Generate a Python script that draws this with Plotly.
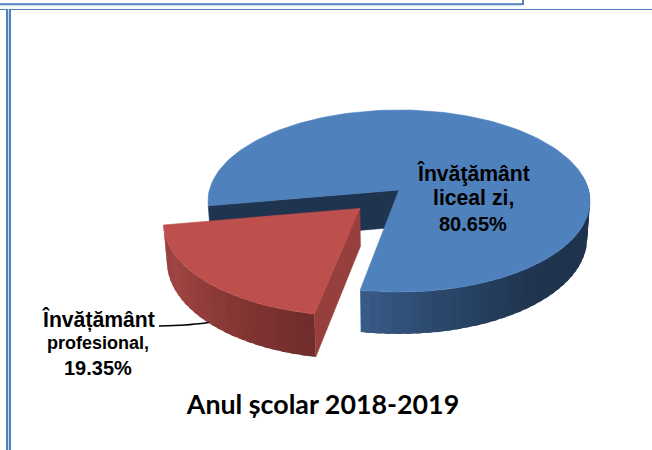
import math
import plotly.graph_objects as go

# ---- data ----
categories = ["Învățământ liceal zi", "Învățământ profesional"]
values = [80.65, 19.35]
chart_title = "Anul școlar 2018-2019"

# ---- drawing geometry ----
CX, CY = 399, 190
A, B, K = 189.6, 89.7, 0.1209
DEPTH = 36.9
EXPLODE = 0.284
START = 10.4


def project(sx, sy, z=0.0):
    den = 1 - K * sy
    x = CX + A * sx / den
    y = CY + B * sy / den
    x = CX + (x - CX) * (1 - 0.015 * z)
    return x, y + DEPTH * z / den


def point(phi, r=1.0, off=(0, 0), z=0.0):
    t = math.radians(phi)
    return project(-math.sin(t) * r + off[0], math.cos(t) * r + off[1], z)


def lerp_color(stops, p):
    for (p0, c0), (p1, c1) in zip(stops, stops[1:]):
        if p <= p1:
            f = (p - p0) / (p1 - p0) if p1 > p0 else 0
            return "rgb(%d,%d,%d)" % tuple(round(c0[i] + (c1[i] - c0[i]) * f) for i in range(3))
    return "rgb(%d,%d,%d)" % stops[-1][1]


fig = go.Figure()


def poly(pts, color, width=0.6):
    xs = [p[0] for p in pts] + [pts[0][0]]
    ys = [p[1] for p in pts] + [pts[0][1]]
    fig.add_trace(go.Scatter(x=xs, y=ys, mode="lines", fill="toself", fillcolor=color,
                             line=dict(color=color, width=width), hoverinfo="skip", showlegend=False))


def wall(lo, hi, n, stops, off=(0, 0), overlap=1.5):
    """Shaded outer wall: later strips lie over the overlap of earlier ones, so no seams show."""
    for i in range(n):
        p0 = lo + (hi - lo) * i / n
        p1 = min(hi, lo + (hi - lo) * (i + 1) / n + overlap)
        pts = [point(p0 + (p1 - p0) * j / 4, off=off) for j in range(5)]
        pts += [point(p1 - (p1 - p0) * j / 4, off=off, z=1) for j in range(5)]
        poly(pts, lerp_color(stops, i / (n - 1)), width=0)


total = sum(values)
red_span = values[1] / total * 360
red_end = START + red_span
mid = math.radians(START + red_span / 2)
off = (-math.sin(mid) * EXPLODE, math.cos(mid) * EXPLODE)

# blue slice: cut face, outer wall, top
poly([point(0, 0), point(red_end), point(red_end, z=1), point(0, 0, z=1)], "#1f344f")
blue_stops = [(0.0, (30, 50, 76)), (0.55, (31, 52, 79)), (0.8, (42, 70, 105)), (1.0, (56, 90, 134))]
wall(START + 250, START + 360, 40, blue_stops)
arc = [point(red_end + (360 - red_span) * i / 160) for i in range(161)]
poly([point(0, 0)] + arc, "#4f81bd")

# red slice: outer wall, cut face, top
red_stops = [(0.0, (112, 45, 43)), (0.3, (130, 53, 51)), (0.75, (160, 69, 67)), (1.0, (146, 62, 60))]
wall(START, red_end, 26, red_stops, off=off)
poly([point(0, 0, off), point(START, off=off), point(START, off=off, z=1), point(0, 0, off, z=1)], "#963f3c")
arc = [point(START + red_span * i / 60, off=off) for i in range(61)]
poly([point(0, 0, off)] + arc, "#bd4f4c")

# leader line
fig.add_trace(go.Scatter(x=[159, 185, 209], y=[326, 325, 322.5], mode="lines",
                         line=dict(color="#000000", width=1.4, shape="spline"),
                         hoverinfo="skip", showlegend=False))

FONT = "Liberation Sans"
labels = [
    ("Învăţământ", 473, 173, 21.2),
    ("liceal zi,", 473, 197, 21.2),
    ("80.65%", 473, 224, 20),
    ("Învățământ", 98, 319, 21.2),
    ("profesional,", 98, 343, 18),
    ("19.35%", 98, 368, 20),
]
annotations = [dict(text="<b>%s</b>" % t, x=x, y=y, xref="x", yref="y", showarrow=False,
                    xanchor="center", yanchor="middle", font=dict(family=FONT, size=s, color="#000000"))
               for t, x, y, s in labels]

BLUE = "#4f81bd"
LIGHT = "#c6d9f1"


def rect(x0, y0, x1, y1, color):
    return dict(type="rect", xref="x", yref="y", x0=x0, y0=y0, x1=x1, y1=y1,
                fillcolor=color, line=dict(width=0), layer="below")


shapes = [
    rect(0, 5, 522, 6.5, "#dce6f2"),
    rect(0, 3.3, 524, 5, BLUE),
    rect(522, 0, 524, 5, BLUE),
    rect(0, 9, 652, 10, BLUE),
    rect(6, 9, 11, 450, LIGHT),
    rect(6, 9, 8, 450, BLUE),
    rect(9, 9, 11, 450, BLUE),
]

fig.update_layout(
    width=652, height=450, margin=dict(l=0, r=0, t=0, b=0),
    paper_bgcolor="#ffffff", plot_bgcolor="#ffffff", showlegend=False,
    xaxis=dict(range=[0, 652], visible=False, fixedrange=True),
    yaxis=dict(range=[450, 0], visible=False, fixedrange=True),
    title=dict(text="<b>%s</b>" % chart_title, x=323 / 652, y=1 - 405 / 450, xanchor="center",
               yanchor="middle", xref="paper", yref="paper",
               font=dict(family="Lato", size=26.8, color="#000000")),
    annotations=annotations, shapes=shapes,
)

fig.write_html("out.html", config={"displayModeBar": False},
               post_script="document.body.style.margin='0';document.body.style.overflow='hidden';")
